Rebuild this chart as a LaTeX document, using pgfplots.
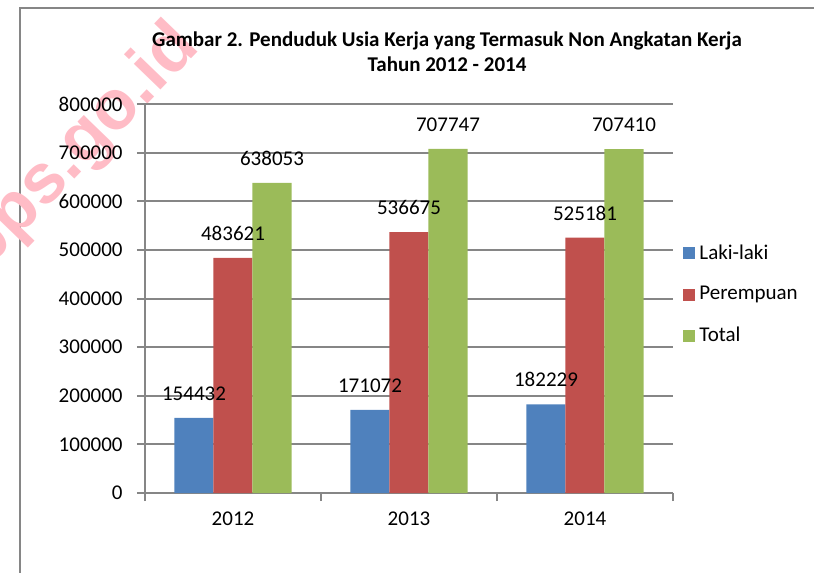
\documentclass[border=0pt]{standalone}
\usepackage{fontspec}
\setmainfont{Carlito}
\newfontfamily\wmfont{Liberation Sans}
\usepackage{pgfplots}
\pgfplotsset{compat=1.18}
\definecolor{cBlue}{HTML}{4F81BD}
\definecolor{cRed}{HTML}{C0504D}
\definecolor{cGreen}{HTML}{9BBB59}
\definecolor{cGrid}{HTML}{868686}
\definecolor{cWm}{HTML}{FFBCC6}
\begin{document}
\fontsize{10.5pt}{12.6pt}\selectfont
\begin{tikzpicture}[x=0.5pt,y=-0.5pt]
\useasboundingbox (0,0) rectangle (814,573);
\clip (0,0) rectangle (814,573);
\draw[cGrid, line width=1pt] (20,600) -- (20,8) -- (900,8);
\node[rotate=46, text=cWm, font=\wmfont\bfseries\fontsize{35pt}{35pt}\selectfont] at (80,148) {bps.go.id};
\node[font=\bfseries, align=center] at (447,52) {Gambar 2. Penduduk Usia Kerja yang Termasuk Non Angkatan Kerja\\Tahun 2012 - 2014};
\begin{axis}[
  at={(72.5pt,-246.5pt)}, anchor=south west,
  scale only axis, width=264pt, height=194.5pt,
  ybar=0pt, bar width=19.5pt,
  ymin=0, ymax=800000, ytick={0,100000,...,800000},
  xmin=-0.5, xmax=2.5, xtick={0,1,2}, xticklabels={2012,2013,2014},
  minor xtick={-0.5,0.5,1.5,2.5},
  enlarge x limits=false,
  axis x line*=bottom, axis y line*=left,
  axis line style={cGrid, line width=1pt},
  ymajorgrids, major grid style={cGrid, line width=1pt},
  tick align=outside, major tick length=4pt, minor tick length=4pt,
  major x tick style={draw=none},
  minor x tick style={cGrid, line width=1pt},
  major y tick style={cGrid, line width=1pt},
  yticklabel style={xshift=-3.5pt},
  xticklabel style={yshift=-1.5pt},
  scaled y ticks=false,
  /pgf/number format/.cd, fixed, 1000 sep={}, assume math mode=true, /pgfplots/.cd,
  nodes near coords,
  every node near coord/.append style={text=black, yshift=5pt},
  legend style={draw=none, fill=none, at={(1.019,0.51)}, anchor=west,
    row sep=8pt, inner xsep=0pt},
  legend cell align=left,
  legend image code/.code={\fill[#1] (0pt,-3pt) rectangle (6pt,3pt);},
]
\addplot[fill=cBlue, draw=none] coordinates {(0,154432) (1,171072) (2,182229)};
\addplot[fill=cRed, draw=none] coordinates {(0,483621) (1,536675) (2,525181)};
\addplot[fill=cGreen, draw=none] coordinates {(0,638053) (1,707747) (2,707410)};
\legend{Laki-laki, Perempuan, Total}
\end{axis}
\end{tikzpicture}
\end{document}
